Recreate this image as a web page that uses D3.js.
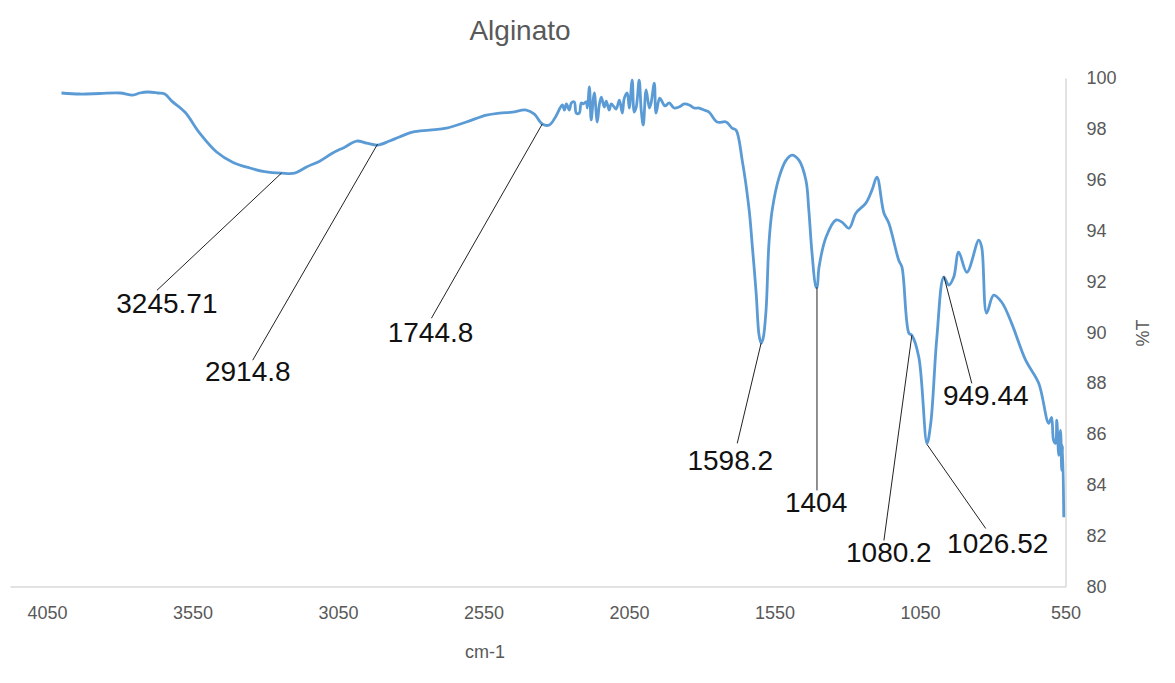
<!DOCTYPE html>
<html>
<head>
<meta charset="utf-8">
<script src="https://cdn.jsdelivr.net/npm/d3@7"></script>
<style>
  html, body { margin: 0; padding: 0; background: #fff; }
  svg { display: block; }
</style>
</head>
<body>
<svg id="chart" width="1175" height="683"></svg>
<script>
// ---- data ----
const title = "Alginato";
const xLabel = "cm-1";
const yLabel = "%T";
const xTicks = [4050, 3550, 3050, 2550, 2050, 1550, 1050, 550];
const yTicks = [80, 82, 84, 86, 88, 90, 92, 94, 96, 98, 100];

const wavenumber = [4000, 3937, 3868, 3799, 3755, 3731, 3703, 3669, 3645, 3621, 3576, 3525, 3467, 3412, 3353, 3302, 3244, 3199, 3158, 3113, 3068, 3027, 2986, 2952, 2914, 2873, 2839, 2794, 2736, 2677, 2609, 2540, 2495, 2451, 2403, 2375, 2348, 2324, 2303,
  2279, 2272, 2265, 2255, 2248, 2238, 2231, 2221, 2214, 2207, 2197, 2193, 2186, 2180, 2173, 2169, 2159, 2152, 2145, 2135, 2128, 2118, 2111, 2101, 2094, 2083, 2073, 2066, 2056, 2049, 2039, 2032, 2025, 2015, 2008, 2001, 1991, 1980, 1974, 1963, 1957, 1945, 1939, 1926, 1912, 1895, 1878, 1860, 1843, 1826, 1809, 1792, 1775,
  1747, 1716, 1696, 1682, 1661, 1637, 1627, 1613, 1603, 1596, 1589, 1579, 1569, 1558, 1534, 1510, 1490, 1466, 1442, 1432, 1421, 1407, 1404, 1397, 1373, 1339, 1318, 1294, 1270, 1236, 1215, 1198, 1174, 1157, 1123, 1112, 1088, 1078, 1054, 1026, 1013, 992, 968, 951, 934, 917, 889, 848, 838, 821, 797, 769, 735, 687, 642, 608, 598, 591, 584, 580, 573, 567, 563, 560, 556];
const transmittance = [99.41, 99.37, 99.39, 99.41, 99.33, 99.41, 99.45, 99.41, 99.37, 99.09, 98.66, 97.83, 97.09, 96.69, 96.46, 96.32, 96.26, 96.26, 96.50, 96.73, 97.05, 97.28, 97.52, 97.44, 97.36, 97.52, 97.68, 97.87, 97.95, 98.03, 98.27, 98.54, 98.62, 98.66, 98.74, 98.58, 98.19, 98.15, 98.46,
  98.94, 98.74, 98.98, 98.74, 99.02, 99.06, 98.62, 98.62, 99.02, 98.98, 99.06, 98.82, 99.65, 98.35, 99.13, 99.41, 98.27, 98.94, 99.25, 98.86, 99.09, 98.74, 98.98, 98.86, 98.78, 99.13, 98.62, 99.21, 99.41, 98.82, 99.92, 98.66, 98.86, 99.92, 98.74, 98.15, 99.53, 98.82, 99.02, 99.80, 98.62, 99.21, 99.13, 98.90, 99.02, 98.82, 98.86, 98.98, 98.94, 98.82, 98.82, 98.74, 98.66,
  98.27, 98.27, 98.03, 97.95, 96.77, 94.80, 93.50, 91.54, 89.88, 89.57, 89.76, 90.87, 93.50, 94.80, 96.10, 96.77, 96.97, 96.77, 95.98, 94.80, 93.11, 91.77, 91.77, 92.56, 93.74, 94.41, 94.33, 94.09, 94.69, 95.08, 95.59, 96.10, 94.69, 94.29, 92.83, 92.56, 89.96, 89.88, 89.02, 85.63, 86.42, 89.80, 92.17, 91.85, 92.17, 93.15, 92.36, 93.62, 93.35, 90.75, 91.46, 91.18, 90.35, 88.90, 87.99, 86.42, 86.65, 85.75, 85.63, 86.54, 85.16, 86.14, 84.57, 85.55, 82.72];

// annotation: label text, point on curve, end of leader line, label centre (all in data units)
const annLabels = ["3245.71", "2914.8", "1744.8", "1598.2", "1404", "1080.2", "1026.52", "949.44"];
const annPointWn = [3244, 2914, 2348, 1596, 1404, 1078, 1026, 968];
const annPointT  = [96.26, 97.40, 98.19, 89.57, 91.77, 89.88, 85.59, 92.20];
const annLineWn  = [3672, 3343, 2729, 1678, 1404, 1174, 824, 872];
const annLineT   = [91.65, 88.90, 90.55, 85.63, 83.78, 81.81, 82.28, 87.99];
const annTextWn  = [3638, 3360, 2732, 1702, 1407, 1157, 783, 824];
const annTextT   = [91.14, 88.46, 90.00, 84.96, 83.31, 81.34, 81.69, 87.52];

// ---- drawing ----
const svg = d3.select("#chart");
const x = d3.scaleLinear().domain([4177, 550]).range([10, 1065.5]);
const y = d3.scaleLinear().domain([80, 100]).range([586.5, 78]);
const grey = "#595959";
const font = "'Liberation Sans', Arial, sans-serif";

svg.append("rect").attr("width", 1175).attr("height", 683).attr("fill", "#fff");

// title
svg.append("text").attr("x", 520).attr("y", 30).attr("dy", "0.35em")
  .attr("text-anchor", "middle").attr("font-family", font).attr("font-size", 28)
  .attr("fill", grey).text(title);

// x axis
const xAxis = d3.axisBottom(x).tickValues(xTicks).tickSize(0).tickPadding(20).tickFormat(d3.format("d"));
const gx = svg.append("g").attr("transform", "translate(0,586.5)").call(xAxis);
gx.select(".domain").attr("stroke", "#d9d9d9").attr("stroke-width", 1.5);
gx.selectAll("text").attr("font-family", font).attr("font-size", 18).attr("fill", grey);

// y axis (right side)
const yAxis = d3.axisRight(y).tickValues(yTicks).tickSize(0).tickPadding(21).tickFormat(d3.format("d"));
const gy = svg.append("g").attr("transform", "translate(1065.5,0)").call(yAxis);
gy.select(".domain").attr("stroke", "#d9d9d9").attr("stroke-width", 1.5);
gy.selectAll("text").attr("font-family", font).attr("font-size", 18).attr("fill", grey);

// axis titles
svg.append("text").attr("x", 485).attr("y", 652).attr("dy", "0.35em")
  .attr("text-anchor", "middle").attr("font-family", font).attr("font-size", 18)
  .attr("fill", grey).text(xLabel);
svg.append("text").attr("transform", "translate(1143,333) rotate(-90)").attr("dy", "0.35em")
  .attr("text-anchor", "middle").attr("font-family", font).attr("font-size", 18)
  .attr("fill", grey).text(yLabel);

// spectrum
const pts = wavenumber.map((w, i) => [w, transmittance[i]]);
svg.append("path").datum(pts)
  .attr("fill", "none").attr("stroke", "#5B9BD5").attr("stroke-width", 2.8)
  .attr("stroke-linejoin", "round")
  .attr("d", d3.line().curve(d3.curveCatmullRom.alpha(0.5)).x(d => x(d[0])).y(d => y(d[1])));

// annotations
const ann = svg.append("g");
annLabels.forEach((lab, i) => {
  ann.append("line")
    .attr("x1", x(annPointWn[i])).attr("y1", y(annPointT[i]))
    .attr("x2", x(annLineWn[i])).attr("y2", y(annLineT[i]))
    .attr("stroke", "#222").attr("stroke-width", 1);
  ann.append("text")
    .attr("x", x(annTextWn[i])).attr("y", y(annTextT[i])).attr("dy", "0.35em")
    .attr("text-anchor", "middle").attr("font-family", font).attr("font-size", 28)
    .attr("fill", "#111").text(lab);
});
</script>
</body>
</html>
